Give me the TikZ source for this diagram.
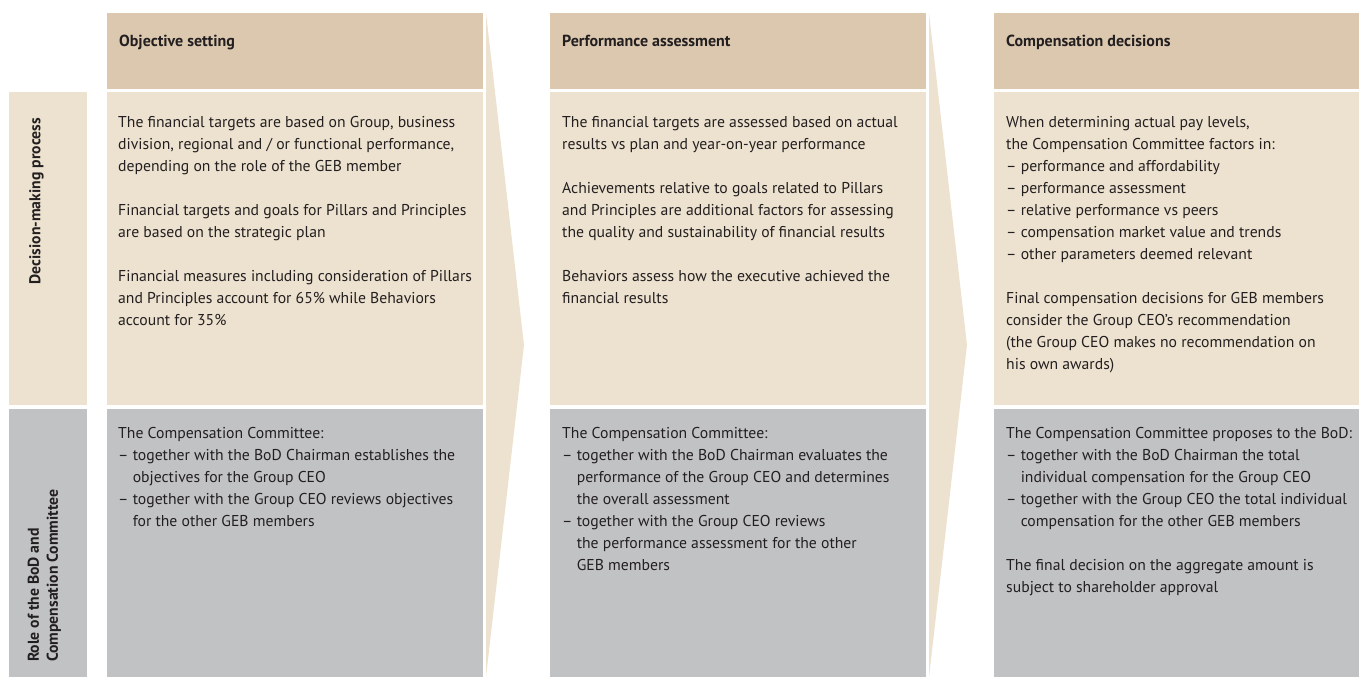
\documentclass[tikz,border=0pt]{standalone}
\usepackage{fontspec}
\setmainfont{PT Sans}
\definecolor{hdrcol}{RGB}{219,200,175}
\definecolor{bodycol}{RGB}{237,226,207}
\definecolor{graycol}{RGB}{193,194,196}
\definecolor{txtcol}{RGB}{35,31,32}
\newcommand\hind{\hphantom{–\ }}
\tikzset{
  hdrbox/.style={fill=hdrcol, draw=none, anchor=north west, inner sep=0, minimum height=76pt},
  bodybox/.style={fill=bodycol, draw=none, anchor=north west, inner sep=0, minimum height=313pt},
  graybox/.style={fill=graycol, draw=none, anchor=north west, inner sep=0, minimum height=268pt},
  txt/.style={anchor=north west, align=left, inner sep=0, text=txtcol, font=\fontsize{15.7}{22}\selectfont},
  hdrtxt/.style={anchor=base west, inner sep=0, text=txtcol, font=\fontsize{16}{22}\selectfont\bfseries},
  sidetxt/.style={rotate=90, align=left, inner sep=0, text=txtcol, font=\fontsize{15.7}{19}\selectfont\bfseries},
  flowarrow/.style={fill=bodycol, draw=none}
}
\begin{document}
\begin{tikzpicture}[x=1pt,y=-1pt]
\useasboundingbox (0,0) rectangle (1359,677);
% left labels
\node[bodybox, minimum width=78pt, minimum height=313pt] (lb) at (9,92) {};
\node[graybox, minimum width=78pt] (lg) at (9,409) {};
% columns
\node[hdrbox, minimum width=376pt] (h1) at (107,13) {};
\node[bodybox, minimum width=376pt] (b1) at (107,92) {};
\node[graybox, minimum width=376pt] (g1) at (107,409) {};
\node[hdrbox, minimum width=376pt] (h2) at (550,13) {};
\node[bodybox, minimum width=376pt] (b2) at (550,92) {};
\node[graybox, minimum width=376pt] (g2) at (550,409) {};
\node[hdrbox, minimum width=365pt] (h3) at (994,13) {};
\node[bodybox, minimum width=365pt] (b3) at (994,92) {};
\node[graybox, minimum width=365pt] (g3) at (994,409) {};
% arrows
\fill[flowarrow] (486,13) -- (524,345) -- (486,677) -- cycle;
\fill[flowarrow] (929,13) -- (967,345) -- (929,677) -- cycle;
% side labels
\node[sidetxt, anchor=north east] (sl1) at (29,118) {Decision-making process};
\node[sidetxt, anchor=north west] (sl2) at (27.5,662) {Role of the BoD and\\Compensation Committee};
% headers
\node[hdrtxt] (ht1) at (119,46.5) {Objective setting};
\node[hdrtxt] (ht2) at (562,46.5) {Performance assessment};
\node[hdrtxt] (ht3) at (1006,46.5) {Compensation decisions};
% column 1
\node[txt] (t1) at (118,115.7) {The financial targets are based on Group, business\\
division, regional and / or functional performance,\\
depending on the role of the GEB member\\[22pt]
Financial targets and goals for Pillars and Principles\\
are based on the strategic plan\\[22pt]
Financial measures including consideration of Pillars\\
and Principles account for 65\% while Behaviors\\
account for 35\%};
\node[txt] (r1) at (118,426.7) {The Compensation Committee:\\
– together with the BoD Chairman establishes the\\
\hind objectives for the Group CEO\\
– together with the Group CEO reviews objectives\\
\hind for the other GEB members};
% column 2
\node[txt] (t2) at (562,115.7) {The financial targets are assessed based on actual\\
results vs plan and year-on-year performance\\[22pt]
Achievements relative to goals related to Pillars\\
and Principles are additional factors for assessing\\
the quality and sustainability of financial results\\[22pt]
Behaviors assess how the executive achieved the\\
financial results};
\node[txt] (r2) at (562,426.7) {The Compensation Committee:\\
– together with the BoD Chairman evaluates the\\
\hind performance of the Group CEO and determines\\
\hind the overall assessment\\
– together with the Group CEO reviews\\
\hind the performance assessment for the other\\
\hind GEB members};
% column 3
\node[txt] (t3) at (1006,115.7) {When determining actual pay levels,\\
the Compensation Committee factors in:\\
– performance and affordability\\
– performance assessment\\
– relative performance vs peers\\
– compensation market value and trends\\
– other parameters deemed relevant\\[22pt]
Final compensation decisions for GEB members\\
consider the Group CEO’s recommendation\\
(the Group CEO makes no recommendation on\\
his own awards)};
\node[txt] (r3) at (1006,426.7) {The Compensation Committee proposes to the BoD:\\
– together with the BoD Chairman the total\\
\hind individual compensation for the Group CEO\\
– together with the Group CEO the total individual\\
\hind compensation for the other GEB members\\[22pt]
The final decision on the aggregate amount is\\
subject to shareholder approval};
\end{tikzpicture}
\end{document}
